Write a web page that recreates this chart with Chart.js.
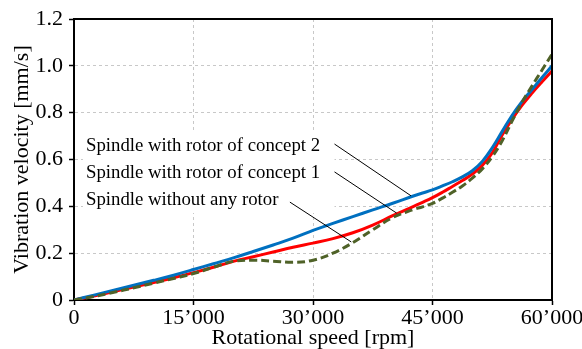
<!DOCTYPE html>
<html>
<head>
<meta charset="utf-8">
<script src="https://cdn.jsdelivr.net/npm/chart.js@4.4.1/dist/chart.umd.min.js"></script>
<style>
  html, body { margin: 0; padding: 0; background: #fff; }
  #wrap { width: 582px; height: 349px; }
</style>
</head>
<body>
<div id="wrap"><canvas id="vibChart" width="582" height="349"></canvas></div>
<script>
// rotational speed [rpm]
const speed = [0, 2500, 5000, 7500, 10000, 12500, 15000, 17500, 20000, 22500, 25000, 27500,
  30000, 32500, 35000, 37500, 40000, 42500,
  43750, 45000, 46250, 47500, 48750, 50000, 51250, 52500, 53750, 55000, 56250, 57500, 58750, 60000];
// vibration velocity [mm/s]
const concept2 = [0, 0.021, 0.042, 0.063, 0.084, 0.106, 0.13, 0.155, 0.18, 0.207, 0.235, 0.264,
  0.297, 0.327, 0.356, 0.385, 0.413, 0.443,
  0.457, 0.47, 0.487, 0.505, 0.526, 0.552, 0.592, 0.65, 0.72, 0.789, 0.848, 0.899, 0.95, 1.0];
const concept1 = [0, 0.017, 0.036, 0.055, 0.075, 0.095, 0.117, 0.14, 0.165, 0.185, 0.205, 0.225,
  0.243, 0.262, 0.287, 0.32, 0.36, 0.398,
  0.417, 0.437, 0.46, 0.485, 0.51, 0.538, 0.575, 0.628, 0.705, 0.772, 0.832, 0.884, 0.932, 0.978];
const noRotor = [0, 0.015, 0.033, 0.052, 0.072, 0.092, 0.113, 0.14, 0.165, 0.17, 0.166, 0.161,
  0.17, 0.2, 0.245, 0.3, 0.352, 0.385,
  0.398, 0.413, 0.435, 0.46, 0.487, 0.52, 0.56, 0.612, 0.68, 0.765, 0.845, 0.915, 0.982, 1.05];

// labels with leader lines (data units)
const labelTexts = ['Spindle with rotor of concept 2', 'Spindle with rotor of concept 1', 'Spindle without any rotor'];
const labelX = 1500;
const labelY = [0.658, 0.542, 0.427];
const leaderFrom = [[32700, 0.666], [32700, 0.547], [27100, 0.418]];
const leaderTo = [[42300, 0.445], [40500, 0.371], [34800, 0.248]];

const serif = '"Liberation Serif", "Times New Roman", serif';

function pts(ys) {
  return speed.map((s, i) => ({ x: s, y: ys[i] }));
}

function fmtSpeed(v) {
  if (v === 0) return '0';
  return String(v).replace(/\B(?=(\d{3})+(?!\d))/g, '\u2019');
}

const labelPlugin = {
  id: 'labels',
  beforeDatasetsDraw(chart) {
    const ctx = chart.ctx, xs = chart.scales.x, ys = chart.scales.y;
    const left = xs.getPixelForValue(labelX) - 3;
    const right = xs.getPixelForValue(leaderFrom[0][0]);
    const top = ys.getPixelForValue(labelY[0]) - 13;
    const bottom = ys.getPixelForValue(labelY[2]) + 13;
    ctx.save();
    ctx.fillStyle = '#fff';
    ctx.fillRect(left, top, right - left, bottom - top);
    ctx.restore();
  },
  afterDatasetsDraw(chart) {
    const ctx = chart.ctx, xs = chart.scales.x, ys = chart.scales.y, a = chart.chartArea;
    ctx.save();
    // frame
    ctx.setLineDash([]);
    ctx.strokeStyle = '#000';
    ctx.lineWidth = 2;
    ctx.beginPath();
    ctx.moveTo(a.left, a.top);
    ctx.lineTo(a.right, a.top);
    ctx.lineTo(a.right, a.bottom);
    ctx.stroke();
    // texts
    ctx.fillStyle = '#000';
    ctx.font = '18.8px ' + serif;
    ctx.textBaseline = 'middle';
    ctx.textAlign = 'left';
    labelTexts.forEach((t, i) => {
      ctx.fillText(t, xs.getPixelForValue(labelX), ys.getPixelForValue(labelY[i]));
    });
    // leader lines
    ctx.lineWidth = 1;
    leaderFrom.forEach((p, i) => {
      ctx.beginPath();
      ctx.moveTo(xs.getPixelForValue(p[0]), ys.getPixelForValue(p[1]));
      ctx.lineTo(xs.getPixelForValue(leaderTo[i][0]), ys.getPixelForValue(leaderTo[i][1]));
      ctx.stroke();
    });
    ctx.restore();
  }
};

const ctx = document.getElementById('vibChart').getContext('2d');
const vibChart = new Chart(ctx, {
  type: 'line',
  data: {
    datasets: [
      {
        label: 'Spindle without any rotor',
        data: pts(noRotor),
        borderColor: '#4F6228',
        borderWidth: 3,
        borderDash: [8, 4],
        order: 1
      },
      {
        label: 'Spindle with rotor of concept 2',
        data: pts(concept2),
        borderColor: '#0070C0',
        borderWidth: 3,
        order: 2
      },
      {
        label: 'Spindle with rotor of concept 1',
        data: pts(concept1),
        borderColor: '#FF0000',
        borderWidth: 3,
        order: 3
      }
    ]
  },
  options: {
    responsive: false,
    animation: false,
    layout: { padding: { top: 19, right: 30, left: 0, bottom: 0 } },
    elements: {
      point: { radius: 0 },
      line: { tension: 0.4, fill: false }
    },
    plugins: { legend: { display: false }, tooltip: { enabled: false } },
    scales: {
      x: {
        type: 'linear',
        min: 0,
        max: 60000,
        afterFit(scale) {
          scale.height = 49;
          scale.paddingLeft = 0;
          scale.paddingRight = 0;
        },
        ticks: {
          stepSize: 15000,
          color: '#000',
          font: { family: serif, size: 22 },
          padding: 0,
          maxRotation: 0,
          callback: (v) => fmtSpeed(v)
        },
        grid: { color: '#c8c8c8', tickColor: '#000', tickLength: 5, tickWidth: 1.5 },
        border: { color: '#000', width: 2, dash: [3, 3] },
        title: {
          display: true,
          text: 'Rotational speed [rpm]',
          color: '#000',
          font: { family: serif, size: 22 },
          padding: { top: 0, bottom: -2 }
        }
      },
      y: {
        min: 0,
        max: 1.2,
        afterFit(scale) {
          scale.width = 74;
          scale.paddingTop = 0;
          scale.paddingBottom = 0;
        },
        ticks: {
          stepSize: 0.2,
          color: '#000',
          font: { family: serif, size: 22 },
          padding: 6,
          callback: (v) => (v === 0 ? '0' : v.toFixed(1))
        },
        grid: { color: '#c8c8c8', tickColor: '#000', tickLength: 5, tickWidth: 1.5 },
        border: { color: '#000', width: 2, dash: [3, 3] },
        title: {
          display: true,
          text: 'Vibration velocity [mm/s]',
          color: '#000',
          font: { family: serif, size: 22 },
          padding: { top: 9, bottom: 0 }
        }
      }
    }
  },
  plugins: [labelPlugin]
});
</script>
</body>
</html>
